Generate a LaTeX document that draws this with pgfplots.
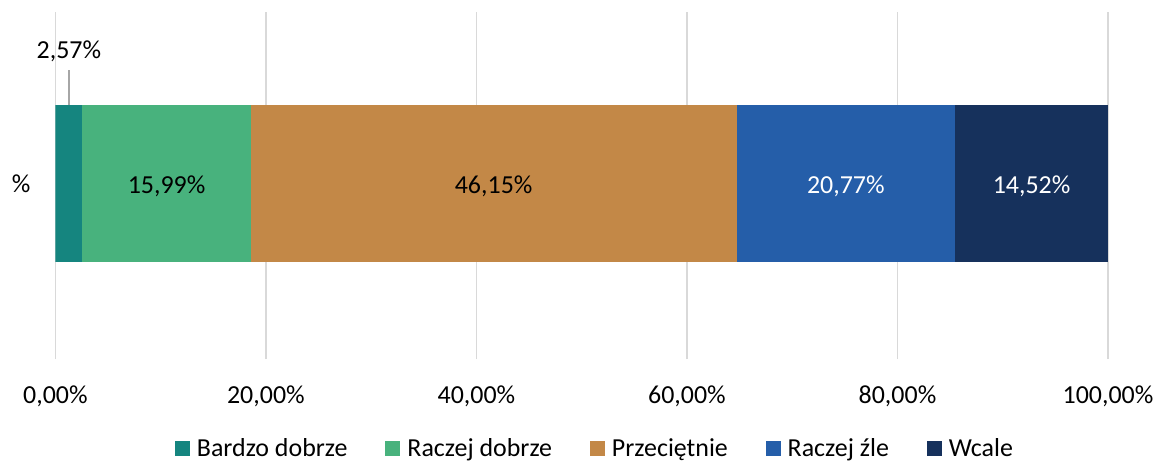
\documentclass[border=0pt]{standalone}
\usepackage{pgfplots}
\pgfplotsset{compat=1.18}
\usepackage{fontspec}
\setmainfont{Carlito}
\definecolor{c1}{HTML}{15857F}
\definecolor{c2}{HTML}{48B27D}
\definecolor{c3}{HTML}{C38847}
\definecolor{c4}{HTML}{255EA9}
\definecolor{c5}{HTML}{16315C}
\definecolor{gridgray}{HTML}{D9D9D9}
\definecolor{leadgray}{HTML}{A6A6A6}
\begin{document}
\begin{tikzpicture}
\begin{axis}[
  name=ax,
  xbar stacked,
  scale only axis,
  width=527.5pt, height=174pt,
  xmin=0, xmax=100,
  ymin=-1.0115, ymax=0.9885,
  bar width=79pt,
  axis line style={draw=none},
  major tick length=0pt,
  xtick={0,20,...,100},
  ytick={0},
  yticklabels={\%},
  xmajorgrids,
  grid style={color=gridgray, line width=0.75pt},
  /pgf/number format/assume math mode=true,
  xticklabel={\pgfmathprintnumber[fixed,fixed zerofill,precision=2,use comma]{\tick}\%},
  tick label style={font=\fontsize{13}{15}\selectfont},
  xticklabel style={yshift=-10pt},
  yticklabel style={xshift=-9pt},
  nodes near coords,
  point meta=explicit symbolic,
  nodes near coords style={font=\fontsize{13}{15}\selectfont, anchor=center, yshift=-1.5pt},
  legend columns=-1,
  legend style={at={(0.5150,-0.258)}, anchor=center, draw=none,
    font=\fontsize{13}{15}\selectfont,
    nodes={inner xsep=3.5pt},
    /tikz/every even column/.append style={column sep=15.5pt}},
  legend image code/.code={\fill[#1] (0pt,-3.75pt) rectangle (7.5pt,3.75pt);},
]
\addplot[fill=c1, draw=none, every node near coord/.append style={anchor=base, yshift=64pt, text=black}]
  coordinates {(2.57,0) [2,57\%]};
\addlegendentry{Bardzo dobrze}
\addplot[fill=c2, draw=none, every node near coord/.append style={text=black}]
  coordinates {(15.99,0) [15,99\%]};
\addlegendentry{Raczej dobrze}
\addplot[fill=c3, draw=none, every node near coord/.append style={text=black}]
  coordinates {(46.15,0) [46,15\%]};
\addlegendentry{Przeciętnie}
\addplot[fill=c4, draw=none, every node near coord/.append style={text=white}]
  coordinates {(20.77,0) [20,77\%]};
\addlegendentry{Raczej źle}
\addplot[fill=c5, draw=none, every node near coord/.append style={text=white}]
  coordinates {(14.52,0) [14,52\%]};
\addlegendentry{Wcale}
\draw[leadgray, line width=0.75pt] (axis cs:1.285,0.454) -- (axis cs:1.285,0.655);
\end{axis}
\path (ax.south west) ++(-27.75pt,-49.5pt) rectangle ++(580pt,229.5pt);
\end{tikzpicture}
\end{document}
